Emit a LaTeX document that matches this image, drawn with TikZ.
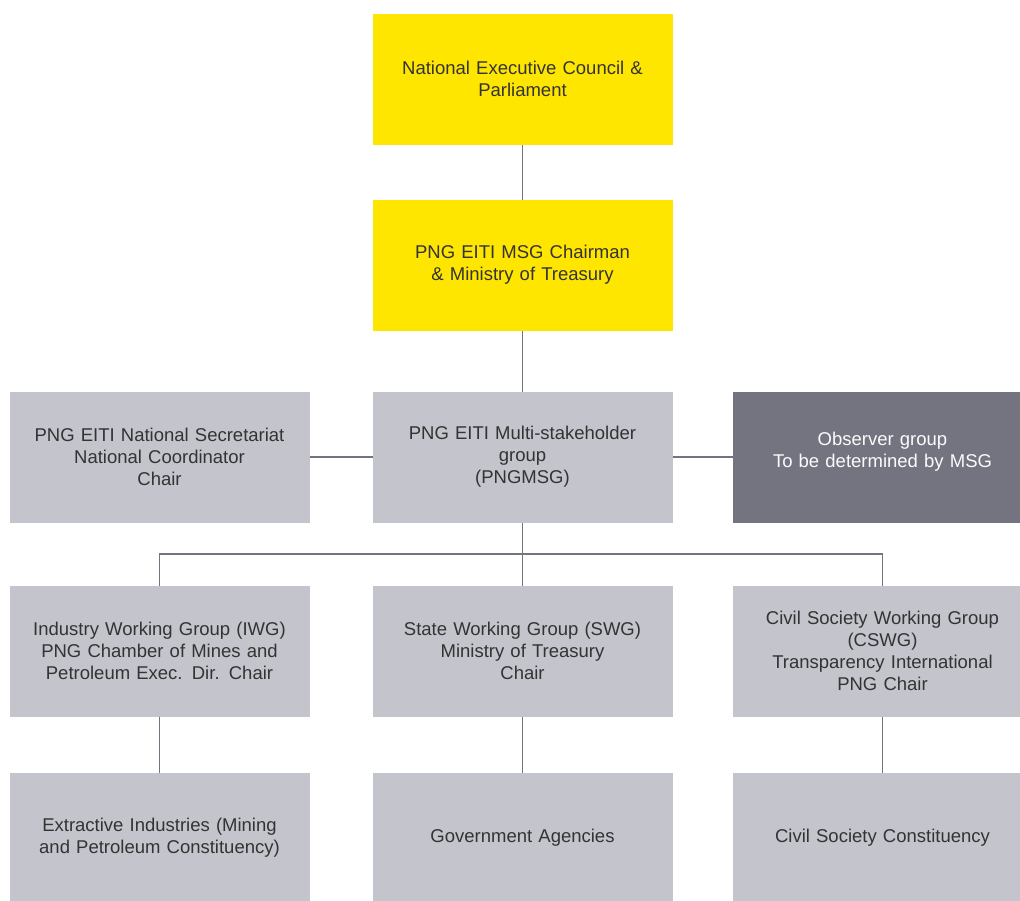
\documentclass[tikz,border=0pt]{standalone}
\usepackage{fontspec}
\setmainfont{Liberation Sans}
\usetikzlibrary{positioning,calc}

\definecolor{eyyellow}{HTML}{FFE600}
\definecolor{eygrey}{HTML}{C4C4CD}
\definecolor{eydark}{HTML}{747480}
\definecolor{eytext}{HTML}{333333}

\begin{document}
\begin{tikzpicture}[
                    x=1pt,
                    y=1pt,
                    line width=1.8pt,
                    node distance=60pt,
                    font=\fontsize{18.5}{22}\selectfont,
                    box/.style={
                        rectangle,
                        minimum width=300pt,
                        minimum height=131pt,
                        inner sep=0pt,
                        outer sep=0pt,
                        text width=290pt,
                        align=center,
                        text=eytext
                    },
                    yellowbox/.style={box, fill=eyyellow},
                    greybox/.style={box, fill=eygrey},
                    darkbox/.style={box, fill=eydark, text=white!94!eygrey},
                    link/.style={draw=eydark}
                ]
                \useasboundingbox (0,0) rectangle (1020,-900);
                \clip (0,0) rectangle (1020,-900);
                \fill[white] (0,0) rectangle (1020,-900);

                \node[yellowbox] (NEC) at (522.5,-79) {National Executive Council \&\\Parliament};
                \node[yellowbox, below=55pt of NEC] (Chair) {PNG EITI MSG Chairman\\\& Ministry of Treasury};
                \node[greybox, below=61pt of Chair] (MSG) {PNG EITI Multi-stakeholder\\group\\(PNGMSG)};
                \node[greybox, left=63pt of MSG] (Sec) {PNG EITI National Secretariat\\National Coordinator\\Chair};
                \node[darkbox, right=60pt of MSG] (Obs) {Observer group\\To be determined by MSG\\[-8pt]\mbox{}};

                \node[greybox, below=63pt of Sec] (IWG) {Industry Working Group (IWG)\\PNG Chamber of Mines and\\Petroleum Exec. Dir. Chair};
                \node[greybox, below=63pt of MSG] (SWG) {State Working Group (SWG)\\Ministry of Treasury\\Chair};
                \node[greybox, below=63pt of Obs] (CSWG) {Civil Society Working Group\\(CSWG)\\Transparency International\\PNG Chair};

                \node[greybox, below=56pt of IWG] (Ind) {Extractive Industries (Mining\\and Petroleum Constituency)};
                \node[greybox, below=56pt of SWG] (Gov) {Government Agencies};
                \node[greybox, below=56pt of CSWG] (Civ) {Civil Society Constituency};

                \coordinate (bus) at ($(MSG.south)!0.5!(SWG.north)$);

                \path[link]
                (NEC) edge (Chair)
                (Chair) edge (MSG)
                (Sec) edge (MSG)
                (MSG) edge (Obs)
                (MSG) edge (SWG)
                (IWG) edge (Ind)
                (SWG) edge (Gov)
                (CSWG) edge (Civ)
                ;
                \draw[link] (IWG.north) |- (bus) -| (CSWG.north);
            \end{tikzpicture}
\end{document}
